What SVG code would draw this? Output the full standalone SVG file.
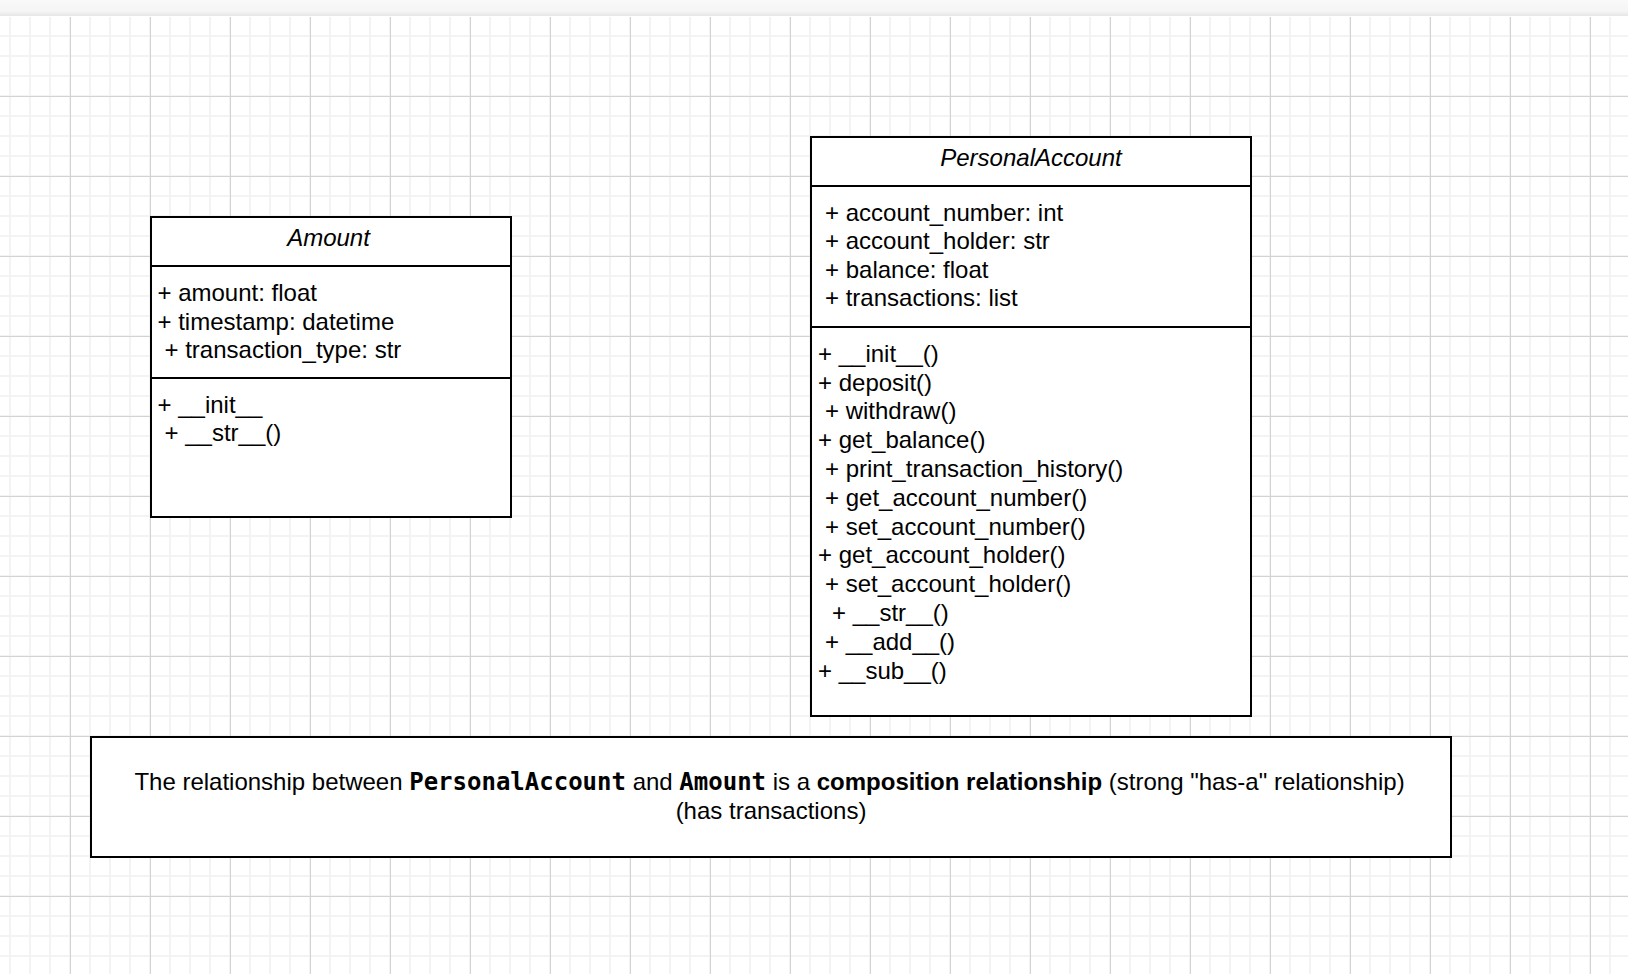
<svg xmlns="http://www.w3.org/2000/svg" width="1628" height="974" viewBox="0 0 1628 974">
<style>
.box{fill:#ffffff;stroke:#000000;stroke-width:2}
.sep{stroke:#000000;stroke-width:2;fill:none}
.t{font-family:"Liberation Sans",Arial,Helvetica,sans-serif;font-size:24px;fill:#000000}
.title{font-style:italic;text-anchor:middle}
.mono{font-family:"DejaVu Sans Mono","Liberation Mono",monospace;font-weight:bold}
.b{font-weight:bold}
</style>
<defs>
<linearGradient id="bar" x1="0" y1="0" x2="0" y2="1">
<stop offset="0" stop-color="#f9f9f9"/>
<stop offset="0.7" stop-color="#f5f5f5"/>
<stop offset="1" stop-color="#e6e6e6"/>
</linearGradient>
<pattern id="minor" x="9" y="15" width="20" height="20" patternUnits="userSpaceOnUse">
<rect x="0" y="0" width="2" height="20" fill="#f3f3f3"/>
<rect x="0" y="0" width="20" height="2" fill="#f3f3f3"/>
</pattern>
<pattern id="major" x="70" y="96" width="80" height="80" patternUnits="userSpaceOnUse">
<rect x="0" y="0" width="1" height="80" fill="#d3d3d3"/>
<rect x="0" y="0" width="80" height="1" fill="#d3d3d3"/>
</pattern>
</defs>

<g id="background">
<rect x="0" y="0" width="1628" height="974" fill="#ffffff"/>
<rect x="0" y="17" width="1628" height="957" fill="url(#minor)"/>
<rect x="0" y="17" width="1628" height="957" fill="url(#major)"/>
<rect x="0" y="0" width="1628" height="16" fill="url(#bar)"/>
</g>

<g id="connectors"></g>

<g id="node-amount">
<rect class="box" x="151" y="217" width="360" height="300"/>
<line class="sep" x1="151" y1="266" x2="511" y2="266"/>
<line class="sep" x1="151" y1="378" x2="511" y2="378"/>
<text class="t title" x="328.5" y="246">Amount</text>
<text class="t" x="157.5" y="301">+ amount: float</text>
<text class="t" x="157.5" y="329.5">+ timestamp: datetime</text>
<text class="t" x="164.5" y="358">+ transaction_type: str</text>
<text class="t" x="157.5" y="412.5">+ __init__</text>
<text class="t" x="164.5" y="440.5">+ __str__()</text>
</g>

<g id="node-personal-account">
<rect class="box" x="811" y="137" width="440" height="579"/>
<line class="sep" x1="811" y1="186" x2="1251" y2="186"/>
<line class="sep" x1="811" y1="327" x2="1251" y2="327"/>
<text class="t title" x="1031" y="166">PersonalAccount</text>
<text class="t" x="825" y="220.5">+ account_number: int</text>
<text class="t" x="825" y="249">+ account_holder: str</text>
<text class="t" x="825" y="277.5">+ balance: float</text>
<text class="t" x="825" y="306">+ transactions: list</text>
<text class="t" x="818" y="361.7">+ __init__()</text>
<text class="t" x="818" y="390.5">+ deposit()</text>
<text class="t" x="825" y="419.3">+ withdraw()</text>
<text class="t" x="818" y="448.1">+ get_balance()</text>
<text class="t" x="825" y="476.9">+ print_transaction_history()</text>
<text class="t" x="825" y="505.7">+ get_account_number()</text>
<text class="t" x="825" y="534.5">+ set_account_number()</text>
<text class="t" x="818" y="563.3">+ get_account_holder()</text>
<text class="t" x="825" y="592.1">+ set_account_holder()</text>
<text class="t" x="832" y="620.9">+ __str__()</text>
<text class="t" x="825" y="649.7">+ __add__()</text>
<text class="t" x="818" y="678.5">+ __sub__()</text>
</g>

<g id="node-note">
<rect class="box" x="91" y="737" width="1360" height="120"/>
<text class="t" x="769.5" y="790" text-anchor="middle" xml:space="preserve">The relationship between <tspan class="mono">PersonalAccount</tspan> and <tspan class="mono">Amount</tspan> is a <tspan class="b">composition relationship</tspan> (strong "has-a" relationship)</text>
<text class="t" x="771" y="819" text-anchor="middle">(has transactions)</text>
</g>
</svg>
